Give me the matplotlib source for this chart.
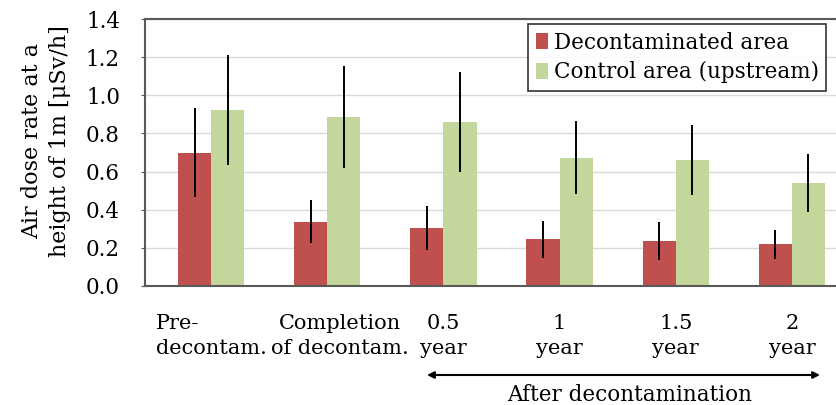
import numpy as np
import matplotlib
matplotlib.use('Agg')
from matplotlib import pyplot as plt

# air dose rate at 1 m height [uSv/h], means and spread per survey period
labels = ['Pre-\ndecontam.', 'Completion\nof decontam.', '0.5\nyear', '1\nyear', '1.5\nyear', '2\nyear']
decon = [0.70, 0.337, 0.302, 0.245, 0.238, 0.218]
decon_err = [0.233, 0.113, 0.115, 0.098, 0.100, 0.078]
control = [0.923, 0.888, 0.862, 0.673, 0.659, 0.540]
control_err = [0.289, 0.268, 0.262, 0.190, 0.183, 0.153]

plt.rcParams['font.family'] = ['DejaVu Serif']
plt.rcParams['font.size'] = 15

red = '#c0504d'
green = '#c3d69b'

fig = plt.figure(figsize=(8.37, 4.05), dpi=100)
ax = fig.add_axes([145/837, (405-286)/405, (858-145)/837, (286-19)/405])

x = np.arange(len(labels))
w = 0.285
ax.bar(x - w/2, decon, w, color=red, label='Decontaminated area', zorder=2)
ax.bar(x + w/2, control, w, color=green, label='Control area (upstream)', zorder=2)
ax.errorbar(x - w/2, decon, yerr=decon_err, fmt='none', ecolor='black', elinewidth=1.4, capsize=0, zorder=3)
ax.errorbar(x + w/2, control, yerr=control_err, fmt='none', ecolor='black', elinewidth=1.4, capsize=0, zorder=3)

ax.set_xlim(-0.569, 5.569)
ax.set_ylim(0, 1.4)
ax.set_yticks(np.arange(0, 1.41, 0.2))
ax.set_yticklabels(['%.1f' % v for v in np.arange(0, 1.41, 0.2)], fontsize=15.5)
ax.yaxis.grid(True, color='#d9d9d9', linewidth=1, zorder=0)
ax.set_axisbelow(True)

# category labels under each pair; the long second one sits a bit to the right
ax.set_xticks(x)
ax.set_xticklabels([])
ax.tick_params(axis='x', length=0)
nudge = [0, 13, 0, 0, 0, 0]
for xi, lab, dx in zip(x, labels, nudge):
    ax.annotate(lab, xy=(xi, 0), xycoords=('data', 'axes fraction'),
                xytext=(dx, -28), textcoords='offset pixels',
                ha='center', va='top', fontsize=15, linespacing=1.4,
                multialignment='left' if xi == 0 else 'center')
ax.tick_params(axis='y', length=3, color='#595959', pad=15)

for s in ['left', 'bottom', 'top']:
    ax.spines[s].set_color('#595959')
    ax.spines[s].set_linewidth(1.5)
ax.spines['right'].set_visible(False)

fig.text(46/837, (405-141)/405, 'Air dose rate at a\nheight of 1m [μSv/h]',
         rotation=90, ha='center', va='center', fontsize=16, linespacing=1.3)

# period after decontamination
ax.annotate('', xy=(820, 405-375), xytext=(427, 405-375), xycoords='figure pixels',
            arrowprops=dict(arrowstyle='<|-|>', color='black', lw=1.5, mutation_scale=10,
                            shrinkA=0, shrinkB=0))
fig.text(630/837, (405-395)/405, 'After decontamination', ha='center', va='center', fontsize=15.5)

leg = fig.legend(loc='upper left', bbox_to_anchor=(528/837, (405-24)/405), borderaxespad=0,
                 frameon=True, fancybox=False, handlelength=0.6, handleheight=0.75,
                 handletextpad=0.25, borderpad=0.35, labelspacing=0.35, fontsize=15.5)
leg.get_frame().set_edgecolor('black')
leg.get_frame().set_linewidth(1.2)

plt.savefig('out.png', dpi=100)
